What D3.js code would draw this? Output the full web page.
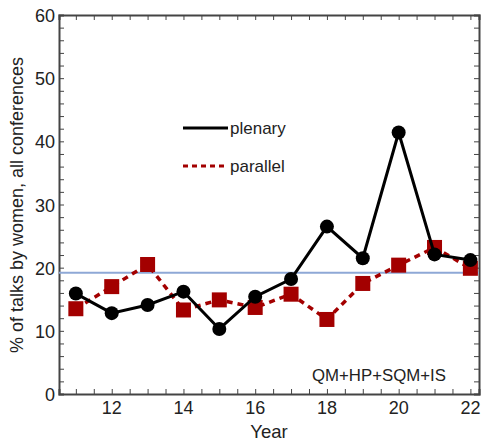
<!DOCTYPE html>
<html><head><meta charset="utf-8">
<script src="https://cdn.jsdelivr.net/npm/d3@7"></script>
<style>body{margin:0;background:#fff}svg{display:block;font-family:"Liberation Sans",Arial,sans-serif}</style>
</head><body><svg id="c" width="482" height="444"></svg>
<script>
const years = [11,12,13,14,15,16,17,18,19,20,21,22];
const plenary = [15.9,12.8,14.1,16.2,10.3,15.4,18.2,26.5,21.5,41.4,22.1,21.2];
const parallel = [13.5,17.0,20.5,13.3,14.9,13.7,15.8,11.8,17.5,20.4,23.2,19.9];
const reference = 19.2;
const yTicks = [0,10,20,30,40,50,60];
const xTicks = [12,14,16,18,20,22];

const svg = d3.select("#c");
const L=59, R=479, T=15, B=394;
const x = d3.scaleLinear().domain([10.53,22.24]).range([L,R]);
const y = d3.scaleLinear().domain([0,60]).range([B,T]);
const frame = "#444";

const minorX = d3.range(11,22.5,0.5);
const minorY = d3.range(0,61,2);
const gB = svg.append("g").attr("transform",`translate(0,${B})`)
  .call(d3.axisBottom(x).tickValues(minorX).tickSize(-5).tickFormat(""));
const gT = svg.append("g").attr("transform",`translate(0,${T})`)
  .call(d3.axisTop(x).tickValues(minorX).tickSize(-5).tickFormat(""));
const gL = svg.append("g").attr("transform",`translate(${L},0)`)
  .call(d3.axisLeft(y).tickValues(minorY).tickSize(-5).tickFormat(""));
const gR = svg.append("g").attr("transform",`translate(${R},0)`)
  .call(d3.axisRight(y).tickValues(minorY).tickSize(-5).tickFormat(""));
[gB,gT,gL,gR].forEach(g=>{
  g.selectAll(".domain").attr("stroke",frame).attr("stroke-width",2);
  g.selectAll(".tick line").attr("stroke",frame).attr("stroke-width",1);
});
svg.append("g").selectAll("text").data(xTicks).join("text")
  .attr("x",d=>x(d)).attr("y",B+20).attr("text-anchor","middle")
  .attr("font-size",18).attr("fill","#222").text(d=>d);
svg.append("g").selectAll("text").data(yTicks).join("text")
  .attr("x",L-4).attr("y",d=>y(d)+7).attr("text-anchor","end")
  .attr("font-size",18).attr("fill","#222").text(d=>d);

svg.append("text").attr("x",269).attr("y",438).attr("text-anchor","middle")
  .attr("font-size",18.5).attr("fill","#222").text("Year");
svg.append("text").attr("transform",`translate(23,205) rotate(-90)`)
  .attr("text-anchor","middle").attr("font-size",18).attr("fill","#222")
  .text("% of talks by women, all conferences");

svg.append("line").attr("x1",L).attr("x2",R).attr("y1",y(reference)).attr("y2",y(reference))
  .attr("stroke","#8ea8d6").attr("stroke-width",2);

const red = "#a30000";
const line = d3.line().x((d,i)=>x(years[i])).y(d=>y(d));
svg.append("path").datum(parallel).attr("d",line).attr("fill","none")
  .attr("stroke",red).attr("stroke-width",3.5).attr("stroke-dasharray","6,5");
svg.append("g").selectAll("rect").data(parallel).join("rect")
  .attr("x",(d,i)=>x(years[i])-7.5).attr("y",d=>y(d)-7.5)
  .attr("width",15).attr("height",15).attr("fill",red);

svg.append("path").datum(plenary).attr("d",line).attr("fill","none")
  .attr("stroke","#000").attr("stroke-width",3);
svg.append("g").selectAll("circle").data(plenary).join("circle")
  .attr("cx",(d,i)=>x(years[i])).attr("cy",d=>y(d)).attr("r",7).attr("fill","#000");

svg.append("line").attr("x1",183).attr("x2",228).attr("y1",128).attr("y2",128)
  .attr("stroke","#000").attr("stroke-width",3);
svg.append("text").attr("x",230).attr("y",134).attr("font-size",17).attr("fill","#222").text("plenary");
svg.append("line").attr("x1",183).attr("x2",228).attr("y1",166).attr("y2",166)
  .attr("stroke",red).attr("stroke-width",3).attr("stroke-dasharray","5,4");
svg.append("text").attr("x",230).attr("y",172).attr("font-size",17).attr("fill","#222").text("parallel");

svg.append("text").attr("x",312).attr("y",381).attr("font-size",16.8).attr("fill","#222").text("QM+HP+SQM+IS");
</script></body></html>
